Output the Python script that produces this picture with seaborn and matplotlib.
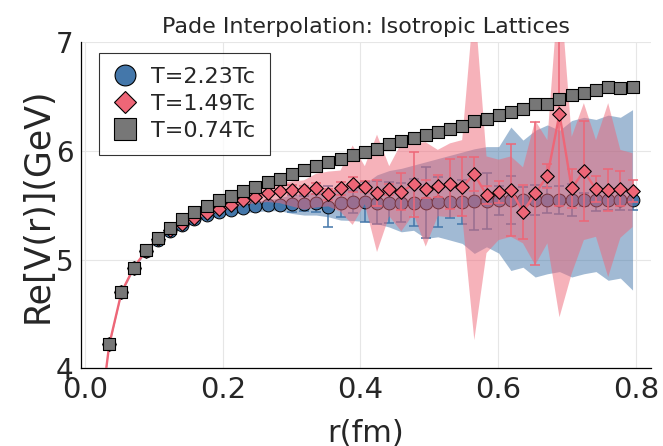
import numpy as np
import pandas as pd
import matplotlib
matplotlib.use("Agg")
import matplotlib.pyplot as plt
import seaborn as sns
from matplotlib.lines import Line2D

# ---------------- data ----------------
r_fm = [0.0177, 0.0353, 0.0530, 0.0707, 0.0884, 0.1060, 0.1237, 0.1414, 0.1590,
        0.1767, 0.1944, 0.2120, 0.2297, 0.2474, 0.2651, 0.2827, 0.3004, 0.3181,
        0.3357, 0.3534, 0.3711, 0.3887, 0.4064, 0.4241, 0.4418, 0.4594, 0.4771,
        0.4948, 0.5124, 0.5301, 0.5478, 0.5654, 0.5831, 0.6008, 0.6185, 0.6361,
        0.6538, 0.6715, 0.6891, 0.7068, 0.7245, 0.7421, 0.7598, 0.7775, 0.7952]

# T = 0.74 Tc (grey squares)
V_074 = [3.34, 4.22, 4.70, 4.925, 5.087, 5.198, 5.293, 5.37, 5.44, 5.496, 5.548,
         5.585, 5.634, 5.67, 5.716, 5.741, 5.787, 5.824, 5.861, 5.895, 5.923, 5.959,
         5.987, 6.02, 6.061, 6.091, 6.116, 6.144, 6.171, 6.20, 6.232, 6.275, 6.297,
         6.33, 6.36, 6.39, 6.432, 6.432, 6.475, 6.515, 6.536, 6.558, 6.588, 6.582, 6.588]

# T = 2.23 Tc (blue circles)
V_223 = [3.34, 4.22, 4.70, 4.92, 5.08, 5.18, 5.26, 5.32, 5.37, 5.41, 5.44, 5.46,
         5.475, 5.49, 5.50, 5.505, 5.515, 5.515, 5.52, 5.486, 5.52, 5.53, 5.53, 5.525,
         5.525, 5.525, 5.525, 5.525, 5.53, 5.53, 5.53, 5.535, 5.54, 5.545, 5.55, 5.55,
         5.55, 5.55, 5.55, 5.55, 5.55, 5.55, 5.55, 5.55, 5.548]
err_223 = [0.005, 0.005, 0.005, 0.005, 0.005, 0.005, 0.005, 0.005, 0.02, 0.02, 0.02,
           0.02, 0.02, 0.02, 0.02, 0.03, 0.08, 0.07, 0.08, 0.19, 0.13, 0.10, 0.18, 0.20,
           0.19, 0.18, 0.22, 0.33, 0.23, 0.15, 0.20, 0.26, 0.26, 0.13, 0.22, 0.12, 0.14,
           0.12, 0.13, 0.15, 0.06, 0.10, 0.09, 0.09, 0.09]
band_lo_223 = [3.33, 4.21, 4.69, 4.91, 5.07, 5.17, 5.25, 5.31, 5.35, 5.38, 5.40, 5.42,
               5.43, 5.44, 5.45, 5.45, 5.425, 5.41, 5.41, 5.394, 5.364, 5.36, 5.35, 5.33,
               5.30, 5.256, 5.27, 5.195, 5.21, 5.18, 5.149, 5.057, 5.118, 5.06, 4.90, 4.93,
               4.84, 4.87, 4.89, 4.84, 4.87, 4.89, 4.81, 4.83, 4.72]
band_hi_223 = [3.35, 4.23, 4.71, 4.93, 5.09, 5.19, 5.27, 5.33, 5.39, 5.44, 5.48, 5.50,
               5.52, 5.54, 5.55, 5.57, 5.60, 5.61, 5.62, 5.64, 5.65, 5.67, 5.70, 5.78,
               5.82, 5.84, 5.87, 5.90, 5.93, 5.96, 5.99, 6.02, 6.04, 6.04, 6.22, 6.10,
               6.19, 6.24, 6.19, 6.28, 6.31, 6.29, 6.33, 6.31, 6.38]

# T = 1.49 Tc (red diamonds)
V_149 = [3.34, 4.22, 4.70, 4.925, 5.08, 5.19, 5.27, 5.33, 5.38, 5.43, 5.47, 5.50,
         5.548, 5.578, 5.61, 5.633, 5.645, 5.64, 5.655, 5.603, 5.655, 5.695, 5.67, 5.61,
         5.649, 5.624, 5.695, 5.649, 5.68, 5.695, 5.67, 5.787, 5.594, 5.624, 5.64, 5.44,
         5.61, 5.769, 6.34, 5.655, 5.815, 5.646, 5.64, 5.652, 5.633]
err_149 = [0.01, 0.01, 0.01, 0.01, 0.01, 0.01, 0.01, 0.01, 0.01, 0.01, 0.01, 0.01,
           0.02, 0.02, 0.02, 0.02, 0.04, 0.04, 0.05, 0.05, 0.06, 0.07, 0.05, 0.12, 0.05,
           0.17, 0.30, 0.08, 0.10, 0.23, 0.27, 0.16, 0.08, 0.10, 0.42, 0.25, 0.66, 0.11,
           0.85, 0.18, 0.46, 0.12, 0.19, 0.16, 0.10]
band_lo_149 = [3.33, 4.21, 4.69, 4.915, 5.07, 5.18, 5.26, 5.32, 5.36, 5.41, 5.44, 5.47,
               5.50, 5.52, 5.53, 5.52, 5.49, 5.46, 5.48, 5.49, 5.44, 5.32, 5.51, 5.07,
               5.40, 5.26, 5.42, 5.12, 5.40, 5.39, 5.40, 4.26, 5.06, 5.18, 5.21, 5.15,
               4.95, 5.15, 4.47, 4.87, 5.18, 5.21, 4.84, 5.20, 5.30]
band_hi_149 = [3.35, 4.23, 4.71, 4.935, 5.09, 5.20, 5.28, 5.34, 5.40, 5.45, 5.50, 5.54,
               5.60, 5.63, 5.67, 5.70, 5.72, 5.73, 5.79, 5.81, 5.82, 6.05, 5.86, 6.15,
               5.86, 6.07, 6.07, 6.08, 6.01, 6.07, 6.10, 7.40, 5.95, 5.92, 5.95, 5.85,
               6.28, 6.10, 7.60, 6.13, 6.44, 6.10, 6.44, 6.01, 5.98]

labels = ["T=2.23Tc", "T=1.49Tc", "T=0.74Tc"]
x_ticks = [0.0, 0.2, 0.4, 0.6, 0.8]
y_ticks = [4, 5, 6, 7]

# ---------------- style ----------------
blue = "#4477AA"
red = "#EE6677"
grey = "#777777"

sns.set_style("white")
plt.rcParams["font.family"] = ["DejaVu Sans"]

df_b = pd.DataFrame({"r": r_fm, "V": V_223, "err": err_223, "lo": band_lo_223, "hi": band_hi_223})
df_r = pd.DataFrame({"r": r_fm, "V": V_149, "err": err_149, "lo": band_lo_149, "hi": band_hi_149})
df_g = pd.DataFrame({"r": r_fm, "V": V_074})

fig = plt.figure(figsize=(6.63, 4.46), dpi=100)
ax = fig.add_axes([81 / 663, 1 - 368.3 / 446, 570 / 663, 326 / 446])

# T=2.23Tc
ax.fill_between(df_b["r"], df_b["lo"], df_b["hi"], color=blue, alpha=0.5, lw=0, zorder=1)
ax.errorbar(df_b["r"], df_b["V"], yerr=df_b["err"], fmt="none", ecolor=blue,
            elinewidth=1.1, capsize=3.6, capthick=1.1, zorder=2)
sns.scatterplot(data=df_b, x="r", y="V", marker="o", s=85, color=blue,
                edgecolor="black", linewidth=0.7, ax=ax, zorder=3, legend=False)

# T=1.49Tc
ax.fill_between(df_r["r"], df_r["lo"], df_r["hi"], color=red, alpha=0.5, lw=0, zorder=4)
ax.errorbar(df_r["r"], df_r["V"], yerr=df_r["err"], fmt="none", ecolor=red,
            elinewidth=1.1, capsize=3.6, capthick=1.1, zorder=5)
sns.lineplot(data=df_r, x="r", y="V", color=red, lw=1.7, ax=ax, zorder=5,
             sort=False, estimator=None, legend=False)
sns.scatterplot(data=df_r, x="r", y="V", marker="D", s=48, color=red,
                edgecolor="black", linewidth=0.8, ax=ax, zorder=6, legend=False)

# T=0.74Tc
sns.scatterplot(data=df_g, x="r", y="V", marker="s", s=81, color=grey,
                edgecolor="black", linewidth=0.8, ax=ax, zorder=7, legend=False)

# ---------------- axes ----------------
ax.set_xlim(-0.0058, 0.822)
ax.set_ylim(4, 7)
ax.set_xticks(x_ticks)
ax.set_xticklabels([f"{t:.1f}" for t in x_ticks])
ax.set_yticks(y_ticks)
ax.set_yticklabels([str(t) for t in y_ticks])
ax.tick_params(axis="both", direction="in", length=4, width=0.8, color="black")
ax.tick_params(axis="x", pad=5.5, labelsize=21)
ax.tick_params(axis="y", pad=5.5, labelsize=20)
ax.grid(True, color="#e6e6e6", lw=0.8, zorder=0)
ax.set_axisbelow(True)
for s in ["top", "right"]:
    ax.spines[s].set_visible(False)
for s in ["left", "bottom"]:
    ax.spines[s].set_color("black")
    ax.spines[s].set_linewidth(0.9)

ax.set_xlabel("r(fm)", fontsize=22, va="baseline")
ax.xaxis.set_label_coords(0.5, (368.3 - 442) / 326)
ax.set_ylabel("Re[V(r)](GeV)", fontsize=25, va="baseline")
ax.yaxis.set_label_coords((48 - 81) / 570, 0.5)
ax.set_title("Pade Interpolation: Isotropic Lattices", fontsize=16,
             y=(368.3 - 33) / 326, pad=0, va="baseline")

handles = [
    Line2D([], [], ls="none", marker="o", markersize=15, markerfacecolor=blue,
           markeredgecolor="black", markeredgewidth=0.8),
    Line2D([], [], ls="none", marker="D", markersize=11.5, markerfacecolor=red,
           markeredgecolor="black", markeredgewidth=0.8),
    Line2D([], [], ls="none", marker="s", markersize=16, markerfacecolor=grey,
           markeredgecolor="black", markeredgewidth=0.8),
]
leg = ax.legend(handles, labels, loc="upper left", bbox_to_anchor=(0.032, 0.968),
                borderaxespad=0, fontsize=16, frameon=True, fancybox=False,
                handlelength=1.02, handletextpad=0.66, borderpad=0.65,
                labelspacing=0.3)
leg.get_frame().set_edgecolor("black")
leg.get_frame().set_linewidth(0.8)

fig.savefig("out.png", dpi=100)
